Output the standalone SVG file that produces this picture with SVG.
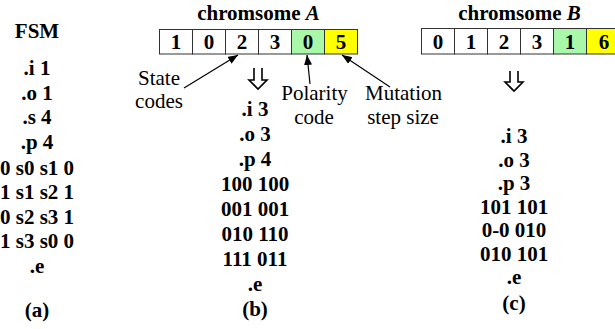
<svg xmlns="http://www.w3.org/2000/svg" width="615" height="329" viewBox="0 0 615 329">
  <style>
    .b { font-family: "Liberation Serif", "Times New Roman", serif; font-size: 21px; font-weight: bold; fill: #000; text-anchor: middle; }
    .r { font-family: "Liberation Serif", "Times New Roman", serif; font-size: 21px; font-weight: normal; fill: #000; text-anchor: middle; }
    .cell { fill: #fff; stroke: #333; stroke-width: 1; }
    .pol { fill: #a9f7a9; }
    .mut { fill: #ffff00; }
    .ptr { stroke: #000; stroke-width: 1.2; fill: none; marker-end: url(#ah); }
    .dn { stroke: #000; stroke-width: 1.6; fill: none; stroke-linejoin: miter; }
  </style>
  <defs>
    <marker id="ah" viewBox="0 0 10 8" refX="10" refY="4" markerWidth="10" markerHeight="8" markerUnits="userSpaceOnUse" orient="auto">
      <path d="M0,0 L10,4 L0,8 z" fill="#000"/>
    </marker>
  </defs>
  <rect width="615" height="329" fill="#fff"/>

  <g id="fsm">
    <text class="b" x="37" y="38">FSM</text>
    <text class="b" x="37" y="75">.i 1</text>
    <text class="b" x="37" y="99.5">.o 1</text>
    <text class="b" x="37" y="124">.s 4</text>
    <text class="b" x="37" y="148.5">.p 4</text>
    <text class="b" x="37" y="174.5">0 s0 s1 0</text>
    <text class="b" x="37" y="199">1 s1 s2 1</text>
    <text class="b" x="37" y="223.5">0 s2 s3 1</text>
    <text class="b" x="37" y="248">1 s3 s0 0</text>
    <text class="b" x="37" y="273">.e</text>
    <text class="b" x="37" y="317">(a)</text>
  </g>

  <g id="chromosomeA">
    <text class="b" x="258.5" y="20">chromsome <tspan font-style="italic">A</tspan></text>
    <rect class="cell" x="159.5" y="29.5" width="33" height="24.5"/>
    <rect class="cell" x="192.5" y="29.5" width="33" height="24.5"/>
    <rect class="cell" x="225.5" y="29.5" width="33" height="24.5"/>
    <rect class="cell" x="258.5" y="29.5" width="33" height="24.5"/>
    <rect class="cell pol" x="291.5" y="29.5" width="33" height="24.5"/>
    <rect class="cell mut" x="324.5" y="29.5" width="33" height="24.5"/>
    <text class="b" x="176" y="48.5">1</text>
    <text class="b" x="209" y="48.5">0</text>
    <text class="b" x="242" y="48.5">2</text>
    <text class="b" x="275" y="48.5">3</text>
    <text class="b" x="308" y="48.5">0</text>
    <text class="b" x="341" y="48.5">5</text>
  </g>

  <g id="chromosomeB">
    <text class="b" x="519.5" y="20">chromsome <tspan font-style="italic">B</tspan></text>
    <rect class="cell" x="421.5" y="28.5" width="33" height="25.5"/>
    <rect class="cell" x="454.5" y="28.5" width="33" height="25.5"/>
    <rect class="cell" x="487.5" y="28.5" width="33" height="25.5"/>
    <rect class="cell" x="520.5" y="28.5" width="33" height="25.5"/>
    <rect class="cell pol" x="553.5" y="28.5" width="33" height="25.5"/>
    <rect class="cell mut" x="586.5" y="28.5" width="33" height="25.5"/>
    <text class="b" x="438" y="48.5">0</text>
    <text class="b" x="471" y="48.5">1</text>
    <text class="b" x="504" y="48.5">2</text>
    <text class="b" x="537" y="48.5">3</text>
    <text class="b" x="570" y="48.5">1</text>
    <text class="b" x="604" y="48.5">6</text>
  </g>

  <g id="label-state">
    <text class="r" x="159" y="85">State</text>
    <text class="r" x="159" y="108">codes</text>
  </g>
  <g id="label-polarity">
    <text class="r" x="314.5" y="100">Polarity</text>
    <text class="r" x="314" y="124">code</text>
  </g>
  <g id="label-mutation">
    <text class="r" x="403.5" y="100">Mutation</text>
    <text class="r" x="403" y="124">step size</text>
  </g>

  <g id="tableB">
    <text class="b" x="255" y="116">.i 3</text>
    <text class="b" x="255" y="141">.o 3</text>
    <text class="b" x="255" y="166">.p 4</text>
    <text class="b" x="255" y="191">100 100</text>
    <text class="b" x="255" y="216">001 001</text>
    <text class="b" x="255" y="241">010 110</text>
    <text class="b" x="255" y="266">111 011</text>
    <text class="b" x="255" y="291">.e</text>
    <text class="b" x="255" y="316">(b)</text>
  </g>

  <g id="tableC">
    <text class="b" x="514" y="143">.i 3</text>
    <text class="b" x="514" y="166.5">.o 3</text>
    <text class="b" x="514" y="190">.p 3</text>
    <text class="b" x="514" y="213.5">101 101</text>
    <text class="b" x="514" y="237">0-0 010</text>
    <text class="b" x="514" y="260.5">010 101</text>
    <text class="b" x="514" y="284">.e</text>
    <text class="b" x="514" y="310">(c)</text>
  </g>

  <g id="connectors">
    <line class="ptr" x1="184" y1="88" x2="238" y2="55"/>
    <line class="ptr" x1="310" y1="84" x2="307" y2="55"/>
    <line class="ptr" x1="390" y1="87" x2="342" y2="55"/>
    <path class="dn" d="M254,68 V80 H249 L258,89 L267,80 H262 V68"/>
    <path class="dn" d="M510,71 V82 H505 L514,91 L523,82 H518 V71"/>
  </g>
</svg>
